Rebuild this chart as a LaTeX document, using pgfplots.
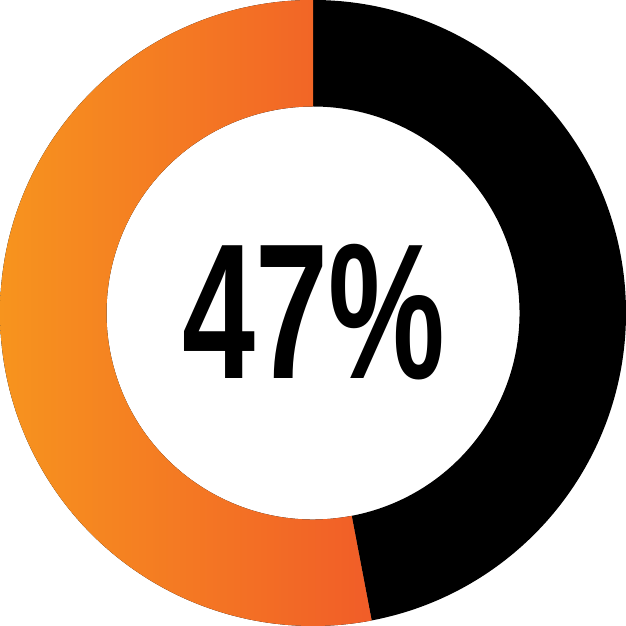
\documentclass[border=0pt]{standalone}
\usepackage{fontspec}
\setmainfont{Liberation Sans}
\usepackage{pgfplots}
\pgfplotsset{compat=1.18}
\usepackage{pgfplotstable}

\definecolor{orangeL}{RGB}{247,148,30}
\definecolor{orangeR}{RGB}{241,93,40}

% share of the black segment, in percent
\pgfplotstableread{
share
47
}\donutdata

\begin{document}
\begin{tikzpicture}
\pgfplotstablegetelem{0}{share}\of\donutdata
\pgfmathtruncatemacro{\share}{\pgfplotsretval}
\pgfmathsetmacro{\ang}{3.6*\share}
\pgfmathsetmacro{\endang}{90-\ang}
\begin{axis}[
    width=626bp, height=626bp,
    scale only axis,
    xmin=-313, xmax=313,
    ymin=-313, ymax=313,
    hide axis,
    clip=false,
]
% black part: clockwise from the top
\fill[black] (axis cs:0,313) arc[start angle=90, end angle=\endang, radius=313bp]
  -- (axis cs:{206.5*cos(\endang)},{206.5*sin(\endang)})
  arc[start angle=\endang, end angle=90, radius=206.5bp] -- cycle;
% orange part with left-to-right gradient
\fill[left color=orangeL, right color=orangeR]
  (axis cs:0,313) arc[start angle=90, end angle={\endang+360}, radius=313bp]
  -- (axis cs:{206.5*cos(\endang)},{206.5*sin(\endang)})
  arc[start angle={\endang+360}, end angle=90, radius=206.5bp] -- cycle;
\node[anchor=center, inner sep=0pt] at (axis cs:1,1)
  {\scalebox{0.68}[1]{\fontsize{193bp}{193bp}\selectfont\bfseries \share\%}};
\end{axis}
\pgfresetboundingbox
\useasboundingbox (0,0) rectangle (626bp,626bp);
\end{tikzpicture}
\end{document}
